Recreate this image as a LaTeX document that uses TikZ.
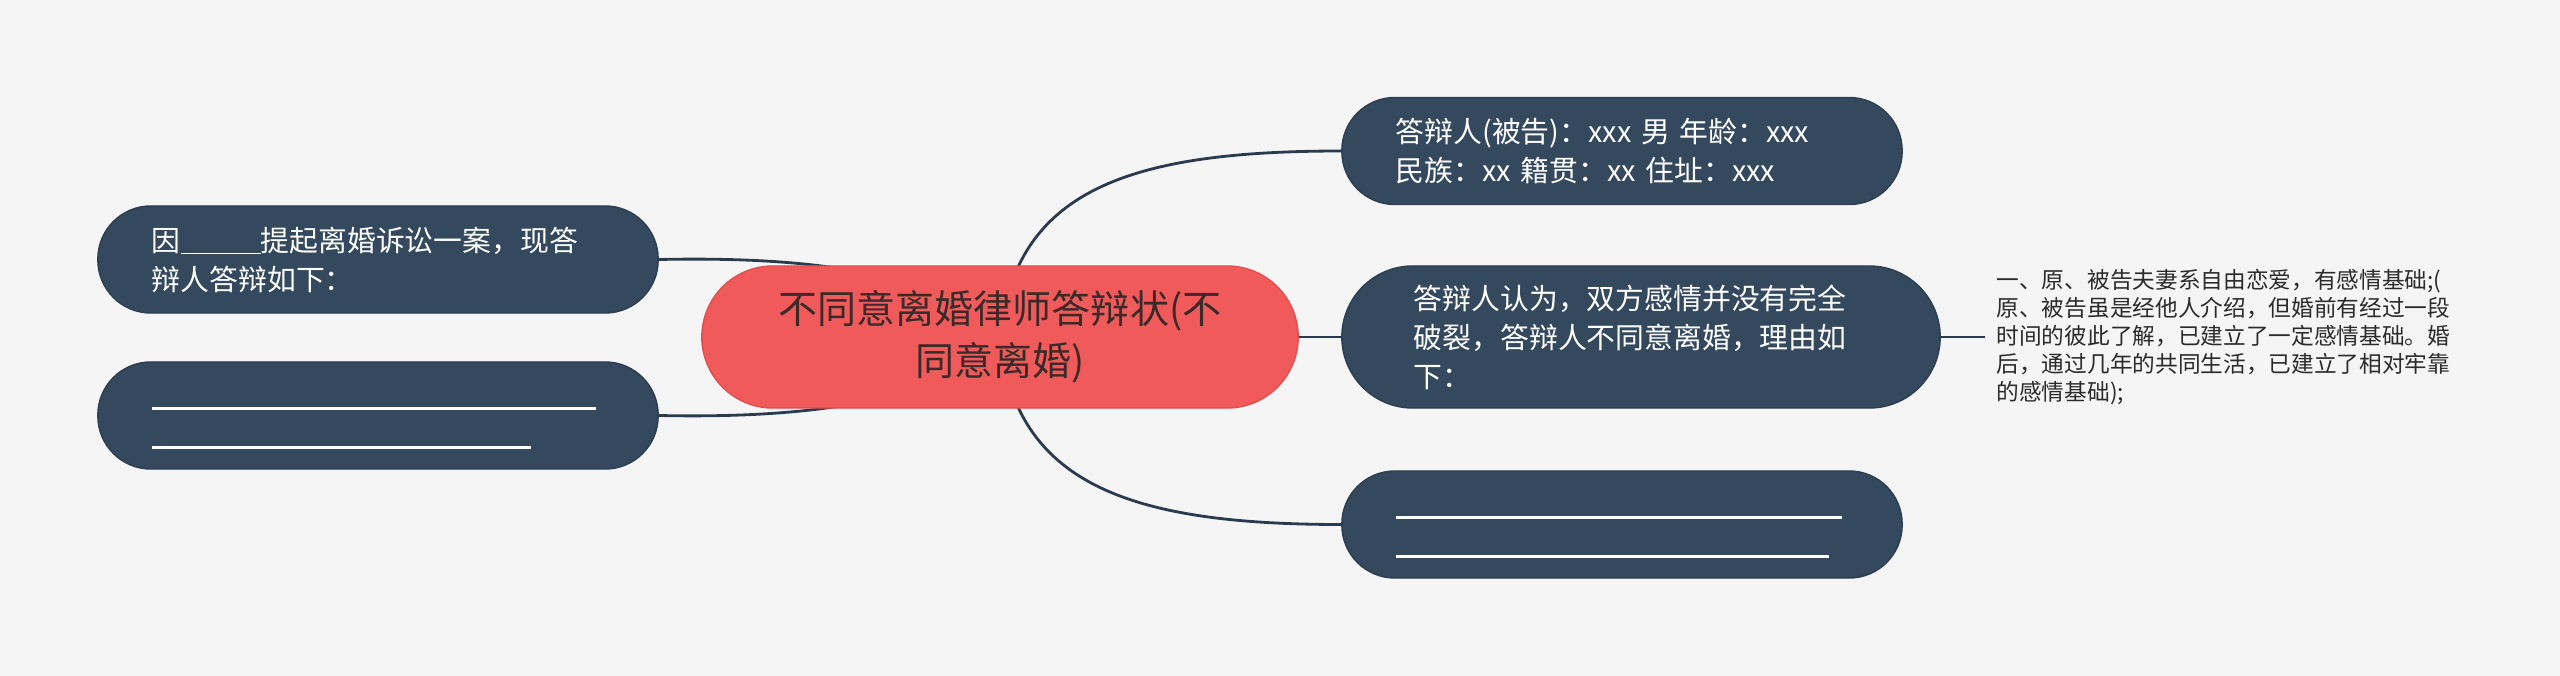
\documentclass[tikz,border=0pt]{standalone}
\usepackage{fontspec}
\setmainfont{Noto Sans CJK SC}
\usetikzlibrary{positioning,calc,backgrounds}
\definecolor{Ink}{HTML}{34495E}
\definecolor{InkEdge}{HTML}{2C3E50}
\definecolor{Coral}{HTML}{F05A5A}
\definecolor{CoralEdge}{HTML}{E14F4F}
\definecolor{RootText}{HTML}{3A2A2A}
\definecolor{LeafText}{HTML}{2B2B2B}
\definecolor{Paper}{HTML}{F5F5F5}
\definecolor{Wire}{HTML}{2A3B4F}
\newcommand{\Blank}[1]{\vphantom{答}\rule[-0.15em]{#1}{0.03cm}}

\begin{document}
\begin{tikzpicture}[x=0.01cm,y=-0.01cm,
  topic/.style={draw=InkEdge,fill=Ink,line width=0.4pt,text=white,align=left,
    inner xsep=0.54cm,inner ysep=0pt,text width=4.52cm,minimum height=1.07cm,
    rounded corners=0.53cm,font=\fontsize{8.2pt}{11.1pt}\selectfont},
  centre/.style={draw=CoralEdge,fill=Coral,line width=0.4pt,text=RootText,align=center,
    minimum width=5.96cm,minimum height=1.42cm,rounded corners=0.71cm,
    font=\fontsize{11.1pt}{14.8pt}\selectfont},
  leaf/.style={text=LeafText,align=left,inner xsep=0.11cm,
    font=\fontsize{6.45pt}{8pt}\selectfont},
  branch/.style={draw=Wire,line width=0.8pt}]
\useasboundingbox (0,0) rectangle (2560,676);
% centre and the six topics
\node[centre] (root) at (1000,337) {不同意离婚律师答辩状(不\\同意离婚)};
\node[topic] (l1) at (378,259.5) {因\rule[-0.12em]{0.80cm}{0.015cm}提起离婚诉讼一案，现答\\辩人答辩如下：};
\node[topic] (l2) at (378,415.5) {\Blank{4.44cm}\\\Blank{3.79cm}};
\node[topic] (r1) at (1622,151) {答辩人(被告)：xxx 男 年龄：xxx\\民族：xx 籍贯：xx 住址：xxx};
\node[topic,minimum height=1.42cm,rounded corners=0.71cm,inner xsep=0.72cm,text width=4.54cm]
  (r2) at (1641,337) {答辩人认为，双方感情并没有完全\\破裂，答辩人不同意离婚，理由如\\下：};
\node[topic] (r3) at (1622,524.5) {\Blank{4.46cm}\\\Blank{4.33cm}};
\node[leaf,right=0.44cm of r2] (leaf) {一、原、被告夫妻系自由恋爱，有感情基础;(\\原、被告虽是经他人介绍，但婚前有经过一段\\时间的彼此了解，已建立了一定感情基础。婚\\后，通过几年的共同生活，已建立了相对牢靠\\的感情基础);};
% connectors behind the boxes
\begin{scope}[on background layer]
\fill[Paper] (0,0) rectangle (2560,676);
\foreach \n/\d in {r1/-1,r3/1} {
  \draw[branch] (root.center) .. controls +(15,\d*147) and +(-212,0) .. (\n.west);
}
\foreach \n/\d in {l1/-1,l2/1} {
  \draw[branch] (root.center) .. controls +(-60,\d*67) and +(142,\d*3) .. (\n.east);
}
\draw[branch] (root.east) -- (r2.west);
\draw[branch] (r2.east) -- (leaf.west);
\end{scope}
\end{tikzpicture}
\end{document}
